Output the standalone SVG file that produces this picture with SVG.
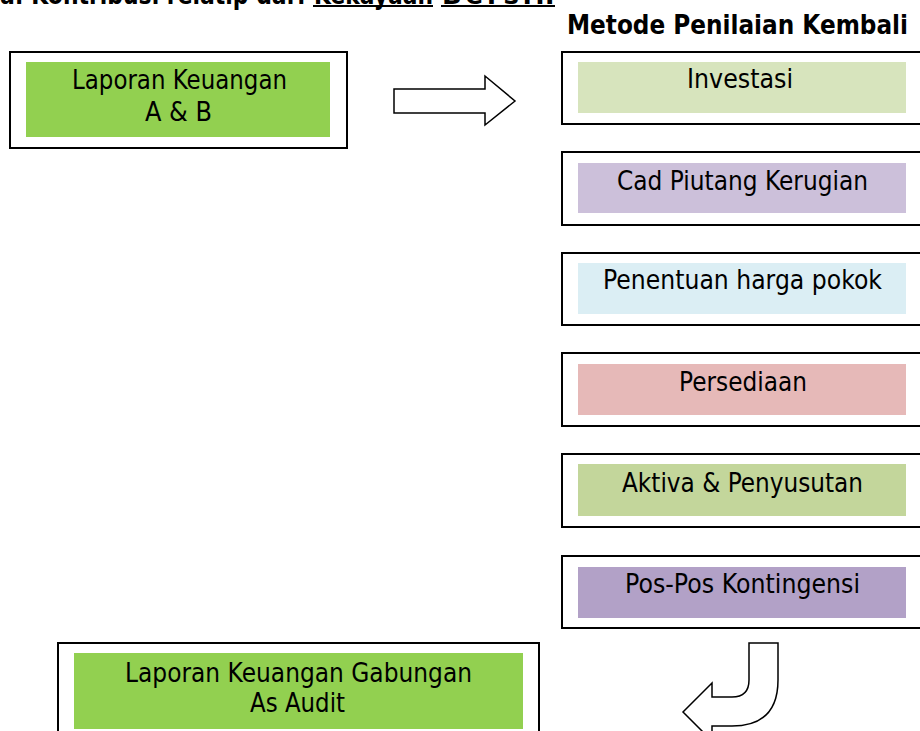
<svg xmlns="http://www.w3.org/2000/svg" width="920" height="731" viewBox="0 0 920 731">
<style>
.outer{fill:#fff;stroke:#000;stroke-width:2}
.t{font-family:"DejaVu Sans","Liberation Sans",sans-serif;font-size:26px;fill:#000;text-anchor:middle}
.b{font-family:"DejaVu Sans","Liberation Sans",sans-serif;font-size:26px;font-weight:bold;fill:#000}
.arrow{fill:#fff;stroke:#000;stroke-width:1.5;stroke-linejoin:miter}
</style>
<rect width="920" height="731" fill="#fff"/>
<g id="title">
<text class="b" x="0" y="4" textLength="305" lengthAdjust="spacingAndGlyphs">a: Kontribusi relatip dari</text>
<text class="b" x="314" y="4" textLength="119" lengthAdjust="spacingAndGlyphs">Kekayaan</text>
<text class="b" x="442" y="4" textLength="112" lengthAdjust="spacing">Bersih</text>
<line x1="313" y1="6" x2="433" y2="6" stroke="#000" stroke-width="2"/>
<line x1="441" y1="6" x2="555" y2="6" stroke="#000" stroke-width="2"/>
</g>
<g id="heading">
<text class="b" x="567" y="34" textLength="341" lengthAdjust="spacingAndGlyphs">Metode Penilaian Kembali</text>
</g>
<g id="laporan-ab">
<rect class="outer" x="10" y="52" width="337" height="96"/>
<rect x="26" y="62" width="304" height="75" fill="#92d050"/>
<text class="t" x="179.5" y="89" textLength="215" lengthAdjust="spacingAndGlyphs">Laporan Keuangan</text>
<text class="t" x="178.5" y="121" textLength="67" lengthAdjust="spacingAndGlyphs">A &amp; B</text>
</g>
<g id="investasi">
<rect class="outer" x="562" y="52" width="380" height="72"/>
<rect x="578" y="62" width="328" height="51" fill="#d7e4bd"/>
<text class="t" x="740" y="88" textLength="106" lengthAdjust="spacingAndGlyphs">Investasi</text>
</g>
<g id="cad-piutang">
<rect class="outer" x="562" y="152" width="380" height="73"/>
<rect x="578" y="163" width="328" height="50" fill="#ccc0da"/>
<text class="t" x="742.5" y="190" textLength="251" lengthAdjust="spacingAndGlyphs">Cad Piutang Kerugian</text>
</g>
<g id="penentuan">
<rect class="outer" x="562" y="253" width="380" height="72"/>
<rect x="578" y="263" width="328" height="51" fill="#dbeef4"/>
<text class="t" x="742.5" y="289" textLength="279" lengthAdjust="spacingAndGlyphs">Penentuan harga pokok</text>
</g>
<g id="persediaan">
<rect class="outer" x="562" y="353" width="380" height="73"/>
<rect x="578" y="364" width="328" height="51" fill="#e6b9b8"/>
<text class="t" x="743" y="391" textLength="128" lengthAdjust="spacingAndGlyphs">Persediaan</text>
</g>
<g id="aktiva">
<rect class="outer" x="562" y="454" width="380" height="73"/>
<rect x="578" y="464" width="328" height="52" fill="#c3d69b"/>
<text class="t" x="742.5" y="492" textLength="241" lengthAdjust="spacingAndGlyphs">Aktiva &amp; Penyusutan</text>
</g>
<g id="pos-pos">
<rect class="outer" x="562" y="556" width="380" height="72"/>
<rect x="578" y="567" width="328" height="51" fill="#b2a1c7"/>
<text class="t" x="742.5" y="593" textLength="235" lengthAdjust="spacingAndGlyphs">Pos-Pos Kontingensi</text>
</g>
<g id="laporan-gabungan">
<rect class="outer" x="58" y="643" width="481" height="100"/>
<rect x="74" y="653" width="449" height="76" fill="#92d050"/>
<text class="t" x="298.5" y="682" textLength="347" lengthAdjust="spacingAndGlyphs">Laporan Keuangan Gabungan</text>
<text class="t" x="297.5" y="712" textLength="95" lengthAdjust="spacingAndGlyphs">As Audit</text>
</g>
<g id="connectors">
<path class="arrow" d="M394,89 L485,89 L485,76 L515,101 L485,125 L485,113 L394,113 Z"/>
<path class="arrow" d="M749,643 L778,643 L778,680 Q778,726 732,726 L712,726 L712,741 L683,712 L712,683 L712,697 L732,697 Q749,697 749,680 Z"/>
</g>
</svg>
